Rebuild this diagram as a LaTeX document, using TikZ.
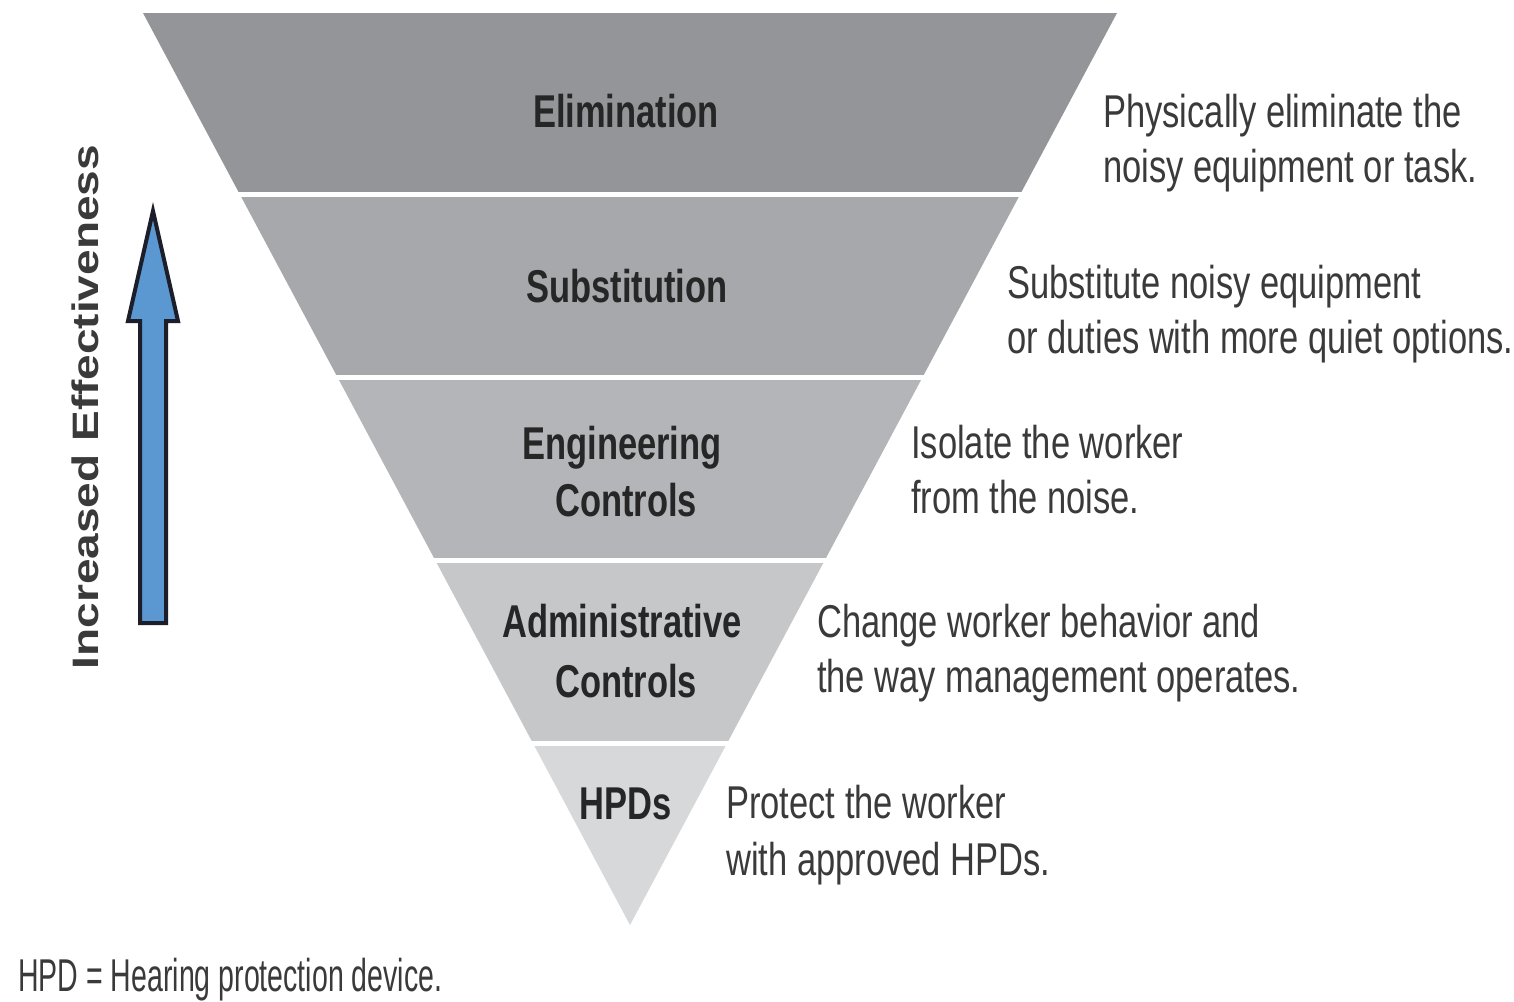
\documentclass[tikz,border=0pt]{standalone}
\usepackage{fontspec}
\setmainfont{Liberation Sans}[FakeStretch=0.75]
\newfontfamily\widefont{Liberation Sans}
\newfontfamily\footfont{Liberation Sans}[FakeStretch=0.62]
\definecolor{bandA}{HTML}{939598}
\definecolor{bandB}{HTML}{A6A8AB}
\definecolor{bandC}{HTML}{B4B5B8}
\definecolor{bandD}{HTML}{C6C7C9}
\definecolor{bandE}{HTML}{D7D8DA}
\definecolor{labelcol}{HTML}{262626}
\definecolor{desccol}{HTML}{3A3A3A}
\definecolor{arrowblue}{HTML}{5B98D2}
\definecolor{arrowline}{HTML}{1C1E2A}
\begin{document}
\begin{tikzpicture}[x=1pt,y=-1pt,
  lbl/.style={inner sep=0pt,anchor=base,text=labelcol,font=\fontsize{46}{55}\selectfont\bfseries},
  desc/.style={inner sep=0pt,anchor=base west,text=desccol,font=\fontsize{46}{55}\selectfont}]
\useasboundingbox (0,0) rectangle (1514,1001);
\fill[white] (0,0) rectangle (1514,1001);
% funnel
\begin{scope}
\clip (143,13) -- (1117,13) -- (630,925) -- cycle;
\fill[bandA] (0,0) rectangle (1514,192);
\fill[bandB] (0,197) rectangle (1514,375);
\fill[bandC] (0,380) rectangle (1514,558);
\fill[bandD] (0,563) rectangle (1514,741);
\fill[bandE] (0,746) rectangle (1514,1001);
\end{scope}
% arrow
\draw[line width=4pt,line join=miter,fill=arrowblue,draw=arrowline]
  (153,211) -- (178,321) -- (166,321) -- (166,623) -- (140,623) -- (140,321) -- (128,321) -- cycle;
\node[inner sep=0pt,rotate=90,anchor=base,text=desccol] (eff) at (98,407)
  {\scalebox{1}[0.8]{\widefont\fontsize{46}{55}\selectfont\bfseries Increased Effectiveness}};
% labels
\node[lbl] (elim) at (626,127) {Elimination};
\node[lbl] (subst) at (627,302) {Substitution};
\node[lbl] (eng1) at (622,459) {Engineering};
\node[lbl] (eng2) at (626,516) {Controls};
\node[lbl] (adm1) at (622,637) {Administrative};
\node[lbl] (adm2) at (626,697) {Controls};
\node[lbl] (hpd) at (626,819) {HPDs};
% descriptions
\node[desc] (d1a) at (1103,127) {Physically eliminate the};
\node[desc] (d1b) at (1103,182) {noisy equipment or task.};
\node[desc] (d2a) at (1007,298) {Substitute noisy equipment};
\node[desc] (d2b) at (1007,353) {or duties with more quiet options.};
\node[desc] (d3a) at (911,458) {Isolate the worker};
\node[desc] (d3b) at (911,513) {from the noise.};
\node[desc] (d4a) at (817,637) {Change worker behavior and};
\node[desc] (d4b) at (817,692) {the way management operates.};
\node[desc] (d5a) at (726,818) {Protect the worker};
\node[desc] (d5b) at (726,875) {with approved HPDs.};
\node[desc,font=\footfont\fontsize{46}{55}\selectfont] (foot) at (18,991) {HPD = Hearing protection device.};
\end{tikzpicture}
\end{document}
